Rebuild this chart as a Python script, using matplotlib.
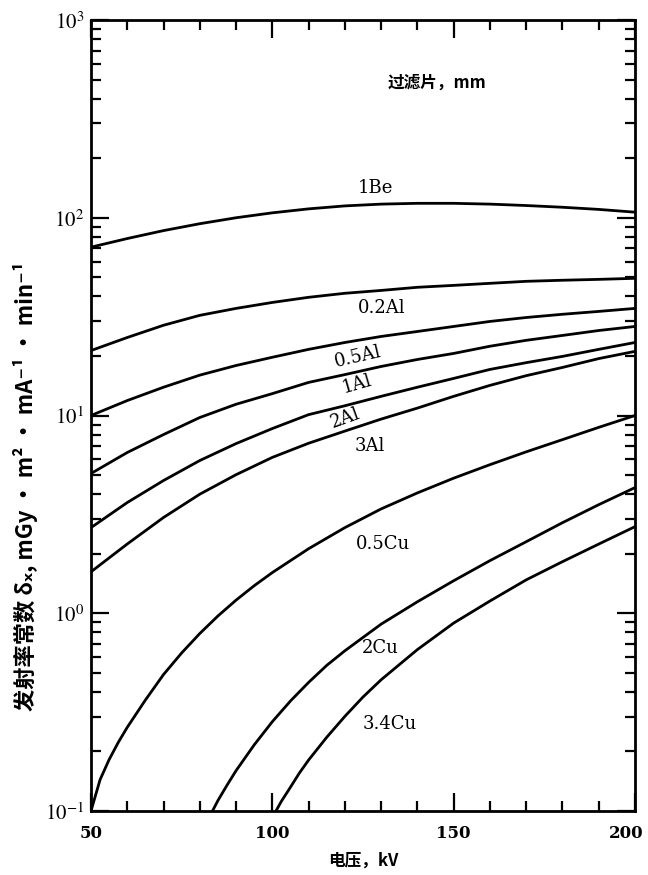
import matplotlib
matplotlib.use("Agg")
import matplotlib.pyplot as plt
import matplotlib.transforms as mtransforms
from matplotlib.ticker import FixedLocator, NullFormatter, LogLocator

# ---- data ----
kv = [50, 60, 70, 80, 90, 100, 110, 120, 130, 140, 150, 160, 170, 180, 190, 200]
be_1 = [71.0, 78.5, 86.1, 93.3, 100, 105.9, 110.9, 114.8, 117.2, 118.3, 118.3, 117.2, 115.3, 113.0, 110.2, 106.7]
al_02 = [21.3, 24.8, 28.6, 32.1, 34.8, 37.3, 39.6, 41.5, 42.9, 44.5, 45.5, 46.6, 47.7, 48.3, 48.8, 49.4]
al_05 = [10, 11.9, 13.9, 16.0, 17.9, 19.7, 21.6, 23.4, 25.1, 26.6, 28.2, 29.9, 31.3, 32.5, 33.6, 34.8]
al_1 = [5.09, 6.5, 8.01, 9.77, 11.4, 12.9, 14.7, 16.1, 17.7, 19.2, 20.6, 22.4, 24.0, 25.4, 26.9, 28.2]
al_2 = [2.71, 3.63, 4.69, 5.92, 7.21, 8.59, 10.1, 11.2, 12.5, 13.9, 15.4, 17.1, 18.5, 19.9, 21.6, 23.4]
al_3 = [1.62, 2.24, 3.05, 4.00, 5.02, 6.14, 7.24, 8.34, 9.59, 10.9, 12.5, 14.2, 15.9, 17.5, 19.4, 21.1]

cu05_kv = [50, 52.5, 55, 57.5, 60, 65, 70, 75, 80, 85, 90, 95, 100,
           110, 120, 130, 140, 150, 160, 170, 180, 190, 200]
cu05 = [0.1, 0.144, 0.182, 0.222, 0.265, 0.364, 0.490, 0.630, 0.790, 0.969, 1.165, 1.378, 1.606,
        2.12, 2.71, 3.37, 4.06, 4.82, 5.64, 6.55, 7.55, 8.71, 10.0]
cu2_kv = [83.5, 85, 87.5, 90, 95, 100, 105, 110, 115, 120, 130, 140, 150, 160, 170, 180, 190, 200]
cu2 = [0.1, 0.113, 0.135, 0.160, 0.216, 0.283, 0.360, 0.447, 0.545, 0.646, 0.881, 1.143, 1.46,
       1.845, 2.30, 2.87, 3.54, 4.32]
cu34_kv = [101, 102.5, 105, 107.5, 110, 115, 120, 125, 130, 140, 150, 160, 170, 180, 190, 200]
cu34 = [0.1, 0.112, 0.132, 0.156, 0.181, 0.236, 0.301, 0.377, 0.461, 0.655, 0.892, 1.153,
        1.475, 1.823, 2.238, 2.741]

x_ticks = [50, 100, 150, 200]
x_tick_labels = ["50", "100", "150", "200"]
y_ticks = [0.1, 1, 10, 100, 1000]
y_tick_labels = [r"$10^{-1}$", r"$10^{0}$", r"$10^{1}$", r"$10^{2}$", r"$10^{3}$"]

plt.rcParams['mathtext.fontset'] = 'stix'
serif = ['DejaVu Serif']
cjk = ['Noto Sans CJK SC', 'DejaVu Sans']

fig = plt.figure(figsize=(6.48, 8.75), dpi=100)
ax = fig.add_axes([91/648, 1-811/875, (635-91)/648, (811-20)/875])

lw = 2.0
for xs, ys in [(kv, be_1), (kv, al_02), (kv, al_05), (kv, al_1), (kv, al_2), (kv, al_3),
               (cu05_kv, cu05), (cu2_kv, cu2), (cu34_kv, cu34)]:
    ax.plot(xs, ys, color='black', lw=lw, solid_capstyle='round', solid_joinstyle='round')

ax.set_yscale('log')
ax.set_xlim(50, 200)
ax.set_ylim(0.1, 1000)

ax.set_xticks(x_ticks)
ax.set_xticklabels(x_tick_labels, family=serif, fontsize=12, fontweight='bold')
ax.xaxis.set_minor_locator(FixedLocator(list(range(60, 200, 10))))
ax.set_yticks(y_ticks)
ax.set_yticklabels(y_tick_labels, fontsize=15)
ax.yaxis.set_minor_locator(LogLocator(base=10, subs=range(2, 10), numticks=20))
ax.yaxis.set_minor_formatter(NullFormatter())

ax.tick_params(which='both', direction='in', top=True, right=True, width=1.6, color='black')
ax.tick_params(which='major', length=13)
ax.tick_params(axis='x', which='major', pad=10)
ax.tick_params(axis='y', which='major', pad=5)
ax.tick_params(which='minor', length=7)
for s in ax.spines.values():
    s.set_linewidth(2.0)

# keep the last x tick label inside the figure, as in the reference
last = ax.get_xticklabels()[-1]
last.set_transform(last.get_transform() +
                   mtransforms.ScaledTranslation(-0.09, 0, fig.dpi_scale_trans))

ax.set_xlabel("电压，kV", family=cjk, fontsize=12, fontweight='bold', labelpad=7)
ax.set_ylabel("发射率常数 δₓ, mGy · m² · mA⁻¹ · min⁻¹", family=cjk, fontsize=16,
              fontweight='bold')
ax.yaxis.set_label_coords(-0.098, 0.41)

tk = dict(family=serif, fontsize=13, ha='center', va='center')
ax.text(128.3, 141, "1Be", **tk)
ax.text(130.2, 34.8, "0.2Al", **tk)
ax.text(123.6, 19.9, "0.5Al", rotation=13, **tk)
ax.text(123.3, 14.5, "1Al", rotation=16, **tk)
ax.text(120.0, 9.66, "2Al", rotation=20, **tk)
ax.text(126.9, 7.05, "3Al", **tk)
ax.text(130.5, 2.25, "0.5Cu", **tk)
ax.text(129.7, 0.668, "2Cu", **tk)
ax.text(132.4, 0.276, "3.4Cu", **tk)
ax.text(145.4, 480, "过滤片，mm", family=cjk, fontsize=12, fontweight='bold',
        ha='center', va='center')

fig.savefig("out.png", dpi=100)
